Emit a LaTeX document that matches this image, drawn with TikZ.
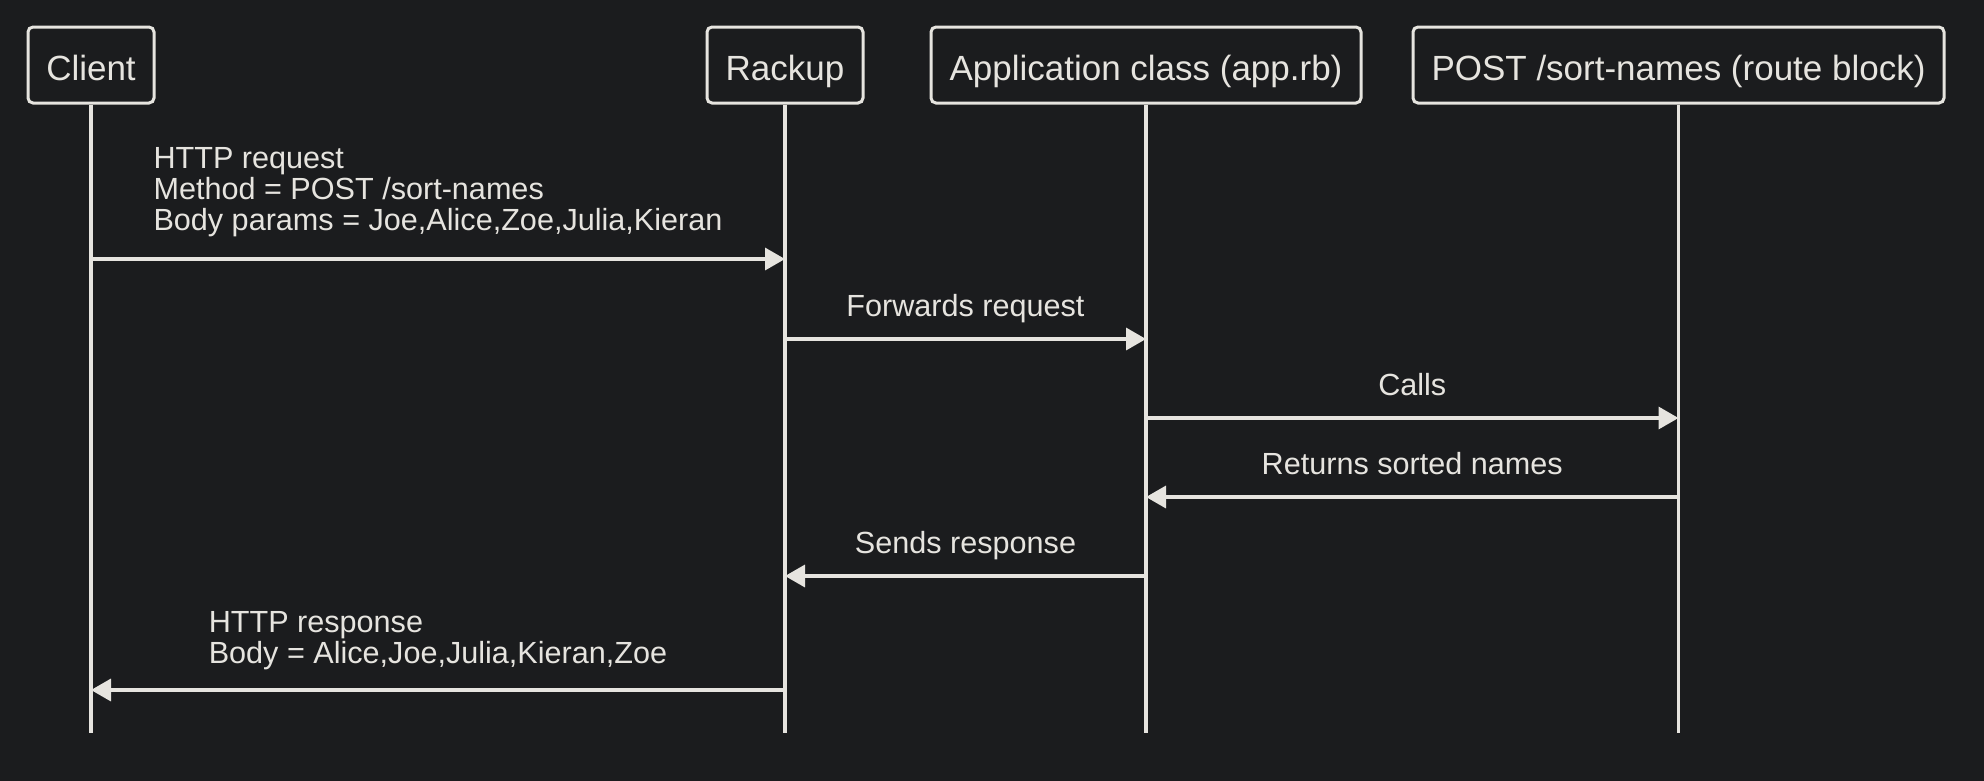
\documentclass[tikz,border=0pt]{standalone}
\usepackage{fontspec}
\setmainfont{Liberation Sans}
\usetikzlibrary{arrows.meta,calc}
\definecolor{bg}{RGB}{27,28,30}
\definecolor{fg}{RGB}{230,228,223}
\begin{document}
\begin{tikzpicture}[x=1pt,y=-1pt,
  actor/.style={draw=fg, line width=3pt, rounded corners=5pt, fill=bg, text=fg,
    font=\fontsize{35}{40}\selectfont, minimum height=76pt,
    text height=30pt, text depth=0pt, inner sep=0pt},
  life/.style={draw=fg, line width=3.5pt},
  msg/.style={draw=fg, line width=3.5pt, -{Triangle[length=20pt,width=22pt]}},
  lbl/.style={text=fg, font=\fontsize{30.6}{31}\selectfont, inner sep=0pt}]
\useasboundingbox (0,0) rectangle (1984,780);
\fill[bg] (-6,-6) rectangle (1990,786);
% lifeline end level and message levels
\coordinate (yend) at (0,733);
\coordinate (m1) at (0,259);
\coordinate (m2) at (0,339);
\coordinate (m3) at (0,418);
\coordinate (m4) at (0,497);
\coordinate (m5) at (0,576);
\coordinate (m6) at (0,690);
% participants
\node[actor, minimum width=126pt] (client) at (91,65) {Client};
\node[actor, minimum width=156pt] (rackup) at (785,65) {Rackup};
\node[actor, minimum width=430pt] (app) at (1146,65) {Application class (app.rb)};
\node[actor, minimum width=531pt] (route) at (1678.5,65) {POST /sort-names (route block)};
% lifelines
\draw[life] (client.south) -- (client |- yend);
\draw[life] (rackup.south) -- (rackup |- yend);
\draw[life] (app.south) -- (app |- yend);
\draw[life] (route.south) -- (route |- yend);
% messages
\draw[msg] (client |- m1) -- (rackup |- m1)
  node[lbl, midway, above=20.5pt, align=left] {HTTP request\\Method = POST /sort-names\\Body params = Joe,Alice,Zoe,Julia,Kieran};
\draw[msg] (rackup |- m2) -- (app |- m2)
  node[lbl, midway, anchor=base, yshift=23pt] {Forwards request};
\draw[msg] (app |- m3) -- (route |- m3)
  node[lbl, midway, anchor=base, yshift=23pt] {Calls};
\draw[msg] (route |- m4) -- (app |- m4)
  node[lbl, midway, anchor=base, yshift=23pt] {Returns sorted names};
\draw[msg] (app |- m5) -- (rackup |- m5)
  node[lbl, midway, anchor=base, yshift=23pt] {Sends response};
\draw[msg] (rackup |- m6) -- (client |- m6)
  node[lbl, midway, above=18.5pt, align=left] {HTTP response\\Body = Alice,Joe,Julia,Kieran,Zoe};
\end{tikzpicture}
\end{document}
